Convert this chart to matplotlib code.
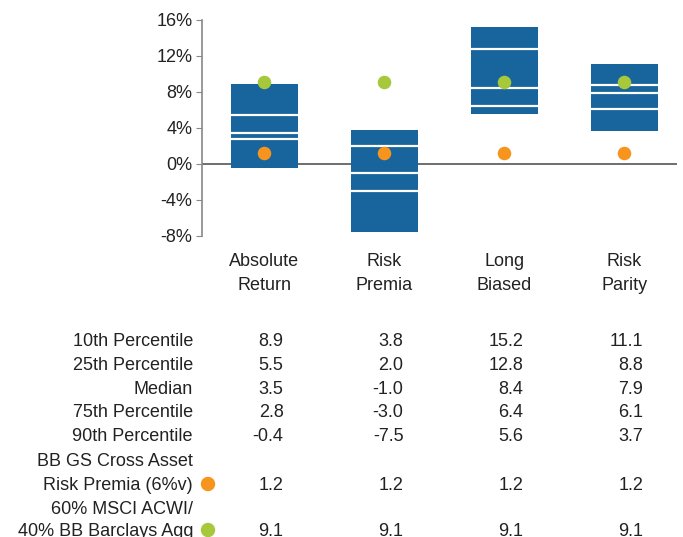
import matplotlib.pyplot as plt
import matplotlib.transforms as mtransforms
from matplotlib.patches import Ellipse

plt.rcParams['font.family'] = ['Liberation Sans', 'DejaVu Sans']

# Data
categories = ['Absolute\nReturn', 'Risk\nPremia', 'Long\nBiased', 'Risk\nParity']
p10 = [8.9, 3.8, 15.2, 11.1]
p25 = [5.5, 2.0, 12.8, 8.8]
median = [3.5, -1.0, 8.4, 7.9]
p75 = [2.8, -3.0, 6.4, 6.1]
p90 = [-0.4, -7.5, 5.6, 3.7]
risk_premia_idx = [1.2, 1.2, 1.2, 1.2]
balanced_6040 = [9.1, 9.1, 9.1, 9.1]
yticks = [-8, -4, 0, 4, 8, 12, 16]

BLUE = '#17659c'
GREEN = '#a6c83a'
ORANGE = '#f7941d'
TXT = '#222222'
FS = 13
W, H = 683, 537

fig = plt.figure(figsize=(W / 100, H / 100), dpi=100)
ax = fig.add_axes([202 / W, 1 - 236 / H, 475 / W, 216 / H])

x = list(range(len(categories)))
heights = [a - b for a, b in zip(p10, p90)]
ax.bar(x, heights, bottom=p90, width=0.56, color=BLUE, zorder=2)

# white lines for inner percentiles
for i in x:
    for v in (p25[i], median[i], p75[i]):
        ax.plot([i - 0.28, i + 0.28], [v, v], color='white', lw=1.6, zorder=3)

ax.axhline(0, color='#555555', lw=1.2, zorder=1)
ax.scatter(x, balanced_6040, s=95, color=GREEN, zorder=4, linewidths=0)
ax.scatter(x, risk_premia_idx, s=95, color=ORANGE, zorder=4, linewidths=0)

ax.set_xlim(-0.52, 3.44)
ax.set_ylim(-8, 16)
ax.set_yticks(yticks)
ax.set_yticklabels(['%d%%' % t for t in yticks], fontsize=FS, color=TXT)
ax.set_xticks([])
for s in ('top', 'right', 'bottom'):
    ax.spines[s].set_visible(False)
ax.spines['left'].set_color('#888888')
ax.spines['left'].set_linewidth(1.2)
ax.tick_params(axis='y', length=4, color='#888888', pad=3)

trans = mtransforms.blended_transform_factory(ax.transData, fig.transFigure)

def fy(py):
    # pixel row centre -> figure fraction of text baseline
    return 1 - (py + 6) / H

# category labels
for i, cat in enumerate(categories):
    for j, line in enumerate(cat.split('\n')):
        fig.text(i, fy(260 + 24 * j), line, transform=trans, ha='center',
                 va='baseline', fontsize=FS, color=TXT)

# table
rows = [
    ('10th Percentile', p10, 340),
    ('25th Percentile', p25, 364),
    ('Median', median, 388),
    ('75th Percentile', p75, 411),
    ('90th Percentile', p90, 435),
    ('Risk Premia (6%v)', risk_premia_idx, 484),
    ('40% BB Barclays Agg', balanced_6040, 530),
]
for label, vals, py in rows:
    fig.text(193 / W, fy(py), label, ha='right', va='baseline', fontsize=FS, color=TXT)
    for i, v in enumerate(vals):
        fig.text(i + 0.16, fy(py), '%.1f' % v, transform=trans, ha='right',
                 va='baseline', fontsize=FS, color=TXT)

fig.text(193 / W, fy(460), 'BB GS Cross Asset', ha='right', va='baseline', fontsize=FS, color=TXT)
fig.text(193 / W, fy(508), '60% MSCI ACWI/', ha='right', va='baseline', fontsize=FS, color=TXT)

fig.add_artist(Ellipse((208 / W, 1 - 484 / H), 13 / W, 13 / H,
                       transform=fig.transFigure, color=ORANGE))
fig.add_artist(Ellipse((208 / W, 1 - 530 / H), 13 / W, 13 / H,
                       transform=fig.transFigure, color=GREEN))

fig.savefig('out.png', dpi=100)
